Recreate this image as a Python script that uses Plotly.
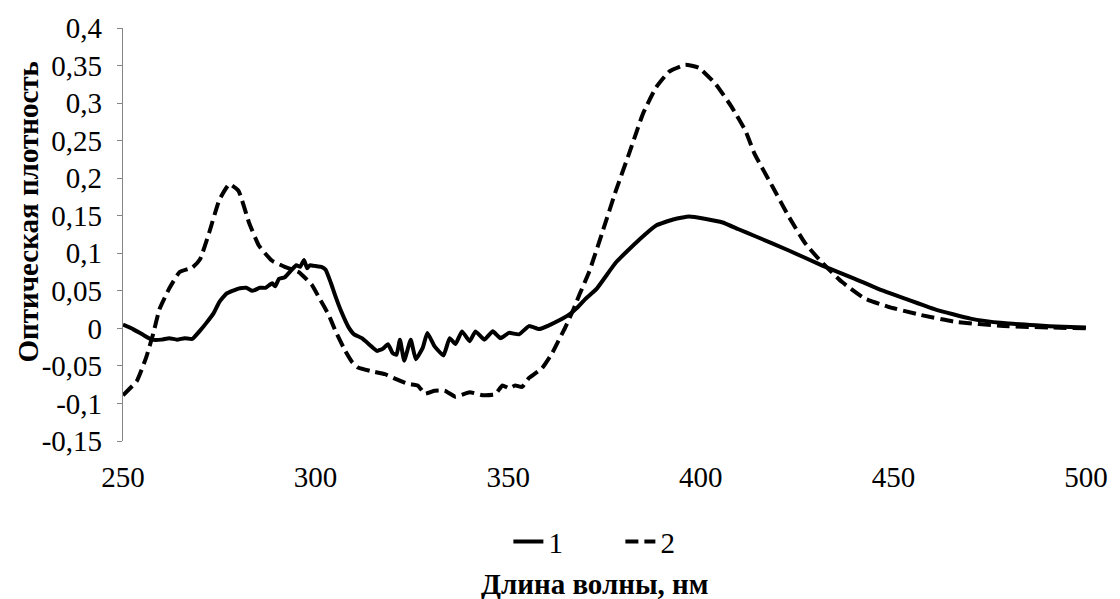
import plotly.graph_objects as go

# Series 1 (solid)
wl_1 = [250, 252.6, 255, 257.5, 260, 262, 264, 266, 268, 270, 271.6, 273.5, 275, 276.8, 280, 282,
        283.6, 285.5, 287, 288.7, 289.5, 290.5, 292, 293.8, 295, 296, 297, 297.8, 298.5, 300, 301.5,
        302.6, 304, 305, 306.7, 308.5, 310, 312, 314.5, 316, 317.5, 318.8, 320, 321, 321.9, 323,
        324.7, 326, 327.8, 329, 330.9, 333.2, 334.8, 336.3, 338, 340, 341.5, 343.8, 346, 348, 350.2,
        352.8, 355.4, 358, 360.6, 363, 366, 367.8, 370, 373, 378, 384, 388.4, 392.8, 397, 401, 405.7,
        409.8, 414, 422.7, 431.4, 440, 445.9, 452.8, 461, 470, 478.6, 487, 494, 500]
od_1 = [0.005, -0.001, -0.008, -0.015, -0.015, -0.013, -0.015, -0.013, -0.014, -0.003, 0.007, 0.02,
        0.035, 0.046, 0.053, 0.054, 0.05, 0.054, 0.054, 0.06, 0.056, 0.066, 0.068, 0.078, 0.084,
        0.082, 0.091, 0.08, 0.084, 0.083, 0.082, 0.078, 0.06, 0.045, 0.022, 0.002, -0.008, -0.013,
        -0.024, -0.03, -0.027, -0.021, -0.033, -0.035, -0.015, -0.043, -0.015, -0.041, -0.026,
        -0.006, -0.024, -0.036, -0.013, -0.021, -0.004, -0.017, -0.004, -0.015, -0.004, -0.013,
        -0.006, -0.008, 0.003, -0.001, 0.004, 0.01, 0.019, 0.027, 0.039, 0.053, 0.088, 0.118, 0.137,
        0.145, 0.149, 0.146, 0.141, 0.132, 0.123, 0.104, 0.084, 0.066, 0.053, 0.04, 0.025, 0.013,
        0.007, 0.004, 0.002, 0.001]

# Series 2 (dashed)
wl_2 = [250, 253.6, 256, 257.8, 259.5, 262, 264.7, 268, 270, 272.4, 275, 277.6, 280, 282.7, 285.3,
        288.7, 292, 295.6, 299, 301, 303.4, 305.2, 307.7, 309.5, 311, 314.4, 318, 320.6, 324, 326.5,
        328.4, 330.9, 333.5, 336.3, 340, 343.3, 346.6, 348.5, 350.3, 351.8, 353.6, 355.4, 358.8,
        361.3, 363, 364.7, 367, 368.5, 371, 374.7, 378, 381.4, 385, 388.4, 391.8, 396, 399.5, 403.9,
        408, 411.6, 414, 418.6, 422.7, 427, 431.4, 436.6, 442.5, 448.5, 457, 465.7, 478.6, 491.5, 500]
od_2 = [-0.089, -0.07, -0.039, -0.008, 0.026, 0.053, 0.075, 0.081, 0.092, 0.128, 0.171, 0.192, 0.183,
        0.141, 0.11, 0.09, 0.082, 0.075, 0.058, 0.04, 0.018, -0.004, -0.03, -0.045, -0.052, -0.057,
        -0.061, -0.067, -0.074, -0.076, -0.087, -0.083, -0.083, -0.091, -0.085, -0.089, -0.088,
        -0.076, -0.08, -0.076, -0.078, -0.066, -0.053, -0.034, -0.017, 0.0, 0.026, 0.045, 0.075,
        0.132, 0.184, 0.233, 0.286, 0.321, 0.342, 0.351, 0.347, 0.325, 0.295, 0.263, 0.232, 0.189,
        0.15, 0.114, 0.088, 0.062, 0.04, 0.029, 0.018, 0.009, 0.003, 0.001, 0.0]

series_names = ["1", "2"]
x_ticks = [250, 300, 350, 400, 450, 500]
y_ticks = [-0.15, -0.1, -0.05, 0, 0.05, 0.1, 0.15, 0.2, 0.25, 0.3, 0.35, 0.4]
y_tick_text = ["-0,15", "-0,1", "-0,05", "0", "0,05", "0,1", "0,15", "0,2", "0,25", "0,3", "0,35", "0,4"]
x_title = "Длина волны, нм"
y_title = "Оптическая плотность"

FONT = "Liberation Serif, Times New Roman, serif"
AXIS_COLOR = "#868686"
FS = 29

fig = go.Figure()
fig.add_trace(go.Scatter(x=wl_1, y=od_1, mode="lines", name=series_names[0],
                         line=dict(color="black", width=4, shape="spline", smoothing=0.4)))
fig.add_trace(go.Scatter(x=wl_2, y=od_2, mode="lines", name=series_names[1],
                         line=dict(color="black", width=4, dash="13px,6px", shape="spline", smoothing=0.4)))

y_range = [-0.15, 0.4]
zero_pos = (0 - y_range[0]) / (y_range[1] - y_range[0])

fig.update_layout(
    width=1120, height=599,
    margin=dict(l=123, r=27, t=23, b=158),
    paper_bgcolor="white", plot_bgcolor="white",
    font=dict(family=FONT, size=FS, color="black"),
    showlegend=True,
    legend=dict(orientation="h", x=(624 - 123) / 970, xanchor="center", y=-0.244, yanchor="middle",
                entrywidth=67, entrywidthmode="pixels", font=dict(size=FS, family=FONT),
                bgcolor="rgba(0,0,0,0)"),
    xaxis=dict(range=[250, 500], tickvals=x_ticks, ticktext=[str(v) for v in x_ticks],
               showline=False, showgrid=False, zeroline=False,
               ticks="outside", ticklen=10, tickcolor="rgba(0,0,0,0)",
               tickfont=dict(size=FS, family=FONT)),
    xaxis2=dict(range=[250, 500], overlaying="x", anchor="free", position=zero_pos, side="bottom",
                tickvals=x_ticks, showticklabels=False, showline=True, linecolor=AXIS_COLOR,
                linewidth=1.3, ticks="outside", ticklen=6, tickcolor=AXIS_COLOR, tickwidth=1.3,
                showgrid=False, zeroline=False, layer="below traces"),
    yaxis=dict(range=y_range, tickvals=y_ticks, ticktext=y_tick_text,
               showline=True, linecolor=AXIS_COLOR, linewidth=1.3, showgrid=False, zeroline=False,
               ticks="outside", ticklen=5, tickcolor=AXIS_COLOR, tickwidth=1.3,
               ticklabelstandoff=9, tickfont=dict(size=FS, family=FONT), layer="below traces"),
    annotations=[
        dict(text="<b>" + y_title + "</b>", textangle=-90, xref="paper", yref="paper",
             x=(27 - 123) / 970, y=(441 - 209) / 418, xanchor="center", yanchor="middle",
             showarrow=False, font=dict(size=FS, family=FONT)),
        dict(text="<b>" + x_title + "</b>", xref="paper", yref="paper",
             x=(598 - 123) / 970, y=(441 - 586) / 418, xanchor="center", yanchor="middle",
             showarrow=False, font=dict(size=FS, family=FONT)),
    ],
)

fig.write_html("out.html", config={"displayModeBar": False})

# remove the browser's default page margin so the figure sits at the window's top-left corner
with open("out.html", "r", encoding="utf-8") as f:
    html = f.read()
html = html.replace("<head>", "<head><style>html,body{margin:0;padding:0;}</style>", 1)
with open("out.html", "w", encoding="utf-8") as f:
    f.write(html)
